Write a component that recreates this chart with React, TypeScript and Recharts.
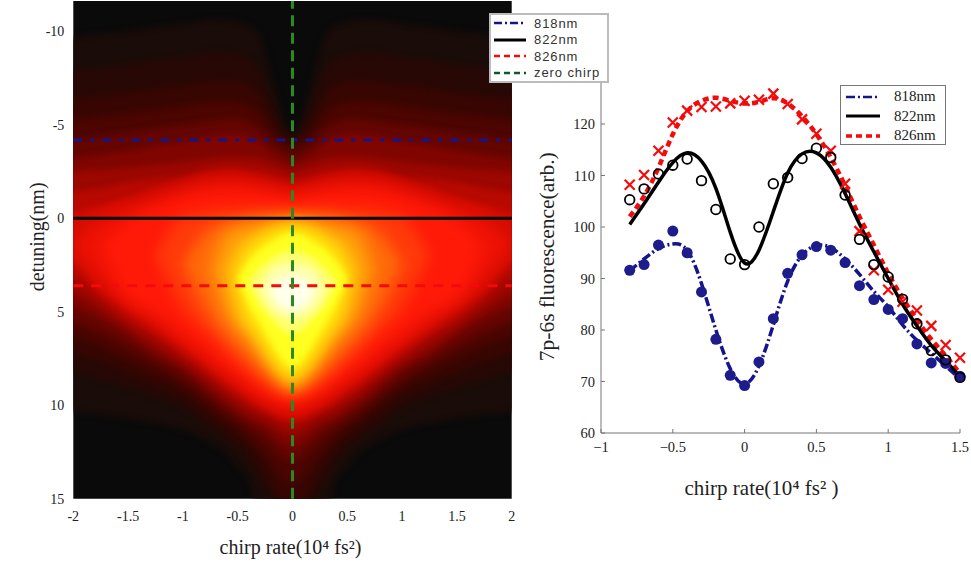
import React from 'react'
import {
  Area,
  ComposedChart,
  Legend,
  Line,
  ReferenceArea,
  ReferenceLine,
  XAxis,
  YAxis,
} from 'recharts'

const SERIF = '"Liberation Serif", serif'

// left panel: contour bands, read per |chirp| column (mirrored about zero chirp)
// the last column sits just outside the axis so the soft edges stay inside the frame
const chirpColumns = [0, 0.1, 0.2, 0.3, 0.4, 0.5, 0.6, 0.75, 1, 1.25, 1.5, 1.75, 2, 2.2]

const levelColors = [
  '#1a0c08', '#280805', '#380602', '#4c0500', '#640500', '#800500', '#9c0700',
  '#b80900', '#d40c02', '#ee1205', '#ff1a08', '#ff3a0a', '#ff6a0a', '#ff9a0a',
  '#ffc80a', '#ffe80a', '#ffff20', '#ffff70', '#ffffb0', '#ffffec',
]

const levelTops = [
  [-4.6, -5.8, -7.8, -9.8, -10.3, -10.5, -10.6, -10.6, -10.4, -10.2, -10, -9.85, -9.7, -9.6],
  [-4.4, -5, -6.5, -7.9, -8.5, -8.7, -8.8, -8.8, -8.6, -8.4, -8.2, -8, -7.9, -7.8],
  [-4.2, -4.6, -5.5, -6.6, -7.1, -7.3, -7.35, -7.3, -7.1, -6.9, -6.7, -6.5, -6.4, -6.3],
  [-3.9, -4.2, -4.8, -5.6, -6, -6.2, -6.25, -6.2, -6, -5.8, -5.6, -5.45, -5.3, -5.2],
  [-3.5, -3.8, -4.2, -4.8, -5.1, -5.3, -5.3, -5.2, -5, -4.8, -4.6, -4.4, -4.2, -4.1],
  [-3, -3.3, -3.6, -4.1, -4.35, -4.5, -4.5, -4.4, -4.1, -3.9, -3.6, -3.4, -3.2, -3.1],
  [-2.6, -2.8, -3, -3.2, -3.25, -3.3, -3.3, -3.2, -3, -2.85, -2.7, -2.6, -2.5, -2.4],
  [-2.2, -2.35, -2.5, -2.65, -2.7, -2.8, -2.8, -2.7, -2.3, -2.1, -1.9, -1.6, -1.4, -1.3],
  [-1.8, -1.95, -2.1, -2.25, -2.35, -2.45, -2.45, -2.4, -2.05, -1.6, -1.1, -0.7, -0.3, -0.1],
  [-1.4, -1.5, -1.6, -1.75, -1.85, -1.95, -1.95, -1.85, -1.5, -1, -0.5, 0, 1.4],
  [-1.1, -1.2, -1.3, -1.4, -1.45, -1.5, -1.5, -1.45, -1.1, -0.6, 0.1, 1.5],
  [-0.6, -0.6, -0.6, -0.6, -0.6, -0.5, -0.5, -0.4, -0.1, 2],
  [-0.2, -0.2, -0.15, -0.1, -0.05, 0.05, 0.15, 0.5, 2.4],
  [0.05, 0.1, 0.15, 0.2, 0.3, 0.45, 0.7, 2.7],
  [0.3, 0.35, 0.5, 0.8, 1.1, 1.5, 2.9],
  [0.5, 0.6, 0.85, 1.2, 1.8, 3.1],
  [0.8, 0.95, 1.3, 1.7, 2.3, 3.2],
  [1.7, 1.85, 2.2, 2.7, 3.4],
  [2.4, 2.5, 2.8, 3.8],
  [3.1, 3.2, 3.9],
]

const levelBottoms = [
  [16, 16, 16, 16, 14, 13.3, 12.6, 12, 11.3, 10.95, 10.7, 10.5, 10.35, 10.3],
  [16, 16, 15, 14, 13, 12.3, 11.8, 11.2, 10.1, 9.5, 9, 8.6, 8.2, 8],
  [15, 15, 14, 13, 12.2, 11.7, 11.2, 10.6, 9.5, 8.8, 8.2, 7.6, 7.2, 7],
  [14.2, 13.8, 13, 12.3, 11.7, 11.2, 10.8, 10.1, 9, 8.2, 7.5, 6.8, 6.3, 6.1],
  [13, 12.7, 12.1, 11.6, 11.2, 10.8, 10.4, 9.7, 8.6, 7.7, 6.9, 6.1, 5.5, 5.3],
  [12.2, 12, 11.5, 11.1, 10.8, 10.4, 10, 9.3, 8.1, 7.3, 6.3, 5.4, 4.7, 4.5],
  [11.5, 11.4, 11, 10.7, 10.4, 10, 9.6, 8.9, 7.8, 6.9, 5.9, 4.9, 4, 3.8],
  [11, 10.9, 10.6, 10.3, 10, 9.6, 9.2, 8.5, 7.4, 6.4, 5.5, 4.4, 3.2, 3],
  [10.7, 10.6, 10.3, 10, 9.6, 9.2, 8.8, 8.1, 7, 6, 5, 3.9, 2.4, 2],
  [10.3, 10.2, 9.9, 9.6, 9.2, 8.8, 8.4, 7.7, 6.6, 5.5, 4.6, 3.3, 1.4],
  [9.9, 9.8, 9.5, 9.2, 8.8, 8.3, 7.9, 7.2, 6.1, 5, 4.2, 1.5],
  [9.6, 9.4, 9.1, 8.7, 8.2, 7.7, 7.2, 6.3, 4.8, 2],
  [9.3, 9.1, 8.7, 8.2, 7.6, 7, 6.4, 5.3, 2.4],
  [9.1, 8.7, 8.1, 7.4, 6.7, 6, 5.2, 2.7],
  [8.8, 8.4, 7.7, 6.8, 6, 5.2, 2.9],
  [8.4, 8, 7.2, 6.2, 5.3, 3.1],
  [8, 7.5, 6.6, 5.6, 4.6, 3.2],
  [6.2, 5.9, 5.3, 4.6, 3.4],
  [5.4, 5.2, 4.8, 3.8],
  [4.9, 4.7, 3.9],
]

const detuning818 = -4.19
const detuning822 = 0
const detuning826 = 3.6

const heatXTicks = [-2, -1.5, -1, -0.5, 0, 0.5, 1, 1.5, 2]
const heatYTicks = [-10, -5, 0, 5, 10, 15]

// right panel
const chirp = [-0.8, -0.7, -0.6, -0.5, -0.4, -0.3, -0.2, -0.1, 0, 0.1, 0.2, 0.3, 0.4, 0.5, 0.6, 0.7, 0.8, 0.9, 1, 1.1, 1.2, 1.3, 1.4, 1.5]
const fit818 = [91.5, 93.8, 95.8, 96.7, 95.5, 89, 80, 72.5, 69.5, 73, 81, 89.5, 94.5, 96.4, 96, 93.8, 90.8, 87.5, 84.5, 81, 78, 75.5, 73, 70.5]
const fit822 = [100.5, 104.5, 108.7, 112.5, 114.4, 112.8, 107.5, 99, 93, 95.5, 103, 110.5, 114.2, 114.4, 111.6, 106.5, 100.6, 95.2, 90, 85, 80.8, 77, 74, 71]
const fit826 = [102, 106, 111.5, 118, 122.5, 124.5, 125.1, 124.5, 124, 124.3, 125, 124, 121.5, 118, 113.5, 108, 102, 96.5, 91, 86.2, 82, 78.2, 75, 71.5]
const meas818 = [91.6, 92.7, 96.5, 99.2, 95, 87.4, 78.2, 71.2, 69.2, 73.8, 82.2, 91, 94.6, 96.2, 95.5, 93.1, 88.6, 85.9, 84, 82.2, 77.3, 73.6, 73.5, 71]
const meas822 = [105.3, 107.4, 110.3, 112, 113.2, 109, 103.4, 93.8, 92.7, 100, 108.4, 109.6, 113.3, 115.3, 113.5, 106.2, 97.6, 92.7, 90.3, 86, 81.2, 76, 74.2, 70.8]
const meas826 = [108.2, 110.1, 114.8, 120.3, 122.6, 123.3, 123.4, 124, 124.5, 124.7, 125.9, 123.9, 120.9, 118.1, 114.8, 108.4, 99.2, 91.6, 87.8, 85.5, 83.8, 80.8, 77.1, 74.6]

const fluorXTicks = [-1, -0.5, 0, 0.5, 1, 1.5]
const fluorYTicks = [60, 70, 80, 90, 100, 110, 120]

const BLUE = '#14148c'
const RED = '#f40a0a'
const GREEN = '#2a8a20'

// mirror the |chirp| columns to a full table
const heatRows = [...chirpColumns.slice(1).reverse().map((x) => -x), ...chirpColumns].map((x) => {
  const col = chirpColumns.indexOf(Math.abs(x))
  const row: Record<string, number | number[]> = { x }
  levelColors.forEach((_, i) => {
    if (col < levelTops[i].length) row[`l${i}`] = [levelTops[i][col], levelBottoms[i][col]]
  })
  return row
})

const fluorRows = chirp.map((x, i) => ({
  x,
  fit818: fit818[i],
  fit822: fit822[i],
  fit826: fit826[i],
  meas818: meas818[i],
  meas822: meas822[i],
  meas826: meas826[i],
}))

const heatLegend = [
  { label: '818nm', color: '#14148c', dash: '8 3 2 3', width: 2.5 },
  { label: '822nm', color: '#000', dash: undefined, width: 3 },
  { label: '826nm', color: RED, dash: '6 4', width: 2.5 },
  { label: 'zero chirp', color: '#0c5a28', dash: '6 4', width: 2.5 },
]

const fluorLegend = [
  { label: '818nm', color: BLUE, dash: '9 3 2 3', width: 2.5 },
  { label: '822nm', color: '#000', dash: undefined, width: 3 },
  { label: '826nm', color: RED, dash: '6 4', width: 3.5 },
]

function HeatLegend() {
  return (
    <div style={{ width: 116, height: 66, background: '#fff', border: '2px solid #bbb', fontFamily: '"Liberation Sans", sans-serif', fontSize: 13, letterSpacing: 0.9, color: '#333' }}>
      {heatLegend.map((d) => (
        <div key={d.label} style={{ height: 16.5, display: 'flex', alignItems: 'center', marginLeft: 3 }}>
          <svg width={32} height={6} style={{ marginRight: 8 }}>
            <line x1={0} x2={32} y1={3} y2={3} stroke={d.color} strokeWidth={d.width} strokeDasharray={d.dash} />
          </svg>
          {d.label}
        </div>
      ))}
    </div>
  )
}

function FluorLegend() {
  return (
    <div style={{ width: 106, height: 60, background: '#fff', border: '1px solid #777', fontFamily: SERIF, fontSize: 15, color: '#222', paddingTop: 1, boxSizing: 'border-box' }}>
      {fluorLegend.map((d) => (
        <div key={d.label} style={{ height: 19.5, display: 'flex', alignItems: 'center', marginLeft: 5 }}>
          <svg width={34} height={6} style={{ marginRight: 14 }}>
            <line x1={0} x2={34} y1={3} y2={3} stroke={d.color} strokeWidth={d.width} strokeDasharray={d.dash} />
          </svg>
          {d.label}
        </div>
      ))}
    </div>
  )
}

const FilledDot = (p: any) => <circle cx={p.cx} cy={p.cy} r={5.5} fill="#1c1c8c" />
const OpenDot = (p: any) => <circle cx={p.cx} cy={p.cy} r={4.8} fill="none" stroke="#000" strokeWidth={1.8} />
const CrossDot = (p: any) => (
  <path
    d={`M${p.cx - 5},${p.cy - 5}L${p.cx + 5},${p.cy + 5}M${p.cx - 5},${p.cy + 5}L${p.cx + 5},${p.cy - 5}`}
    stroke={RED}
    strokeWidth={2.2}
    fill="none"
  />
)

const minusTick = (v: number) => String(v).replace('-', '\u2212')

function HeatPanel() {
  return (
    <ComposedChart width={620} height={568} data={heatRows} margin={{ top: 1, right: 108.3, left: 0, bottom: 0 }}>
      <XAxis
        dataKey="x"
        type="number"
        domain={[-2, 2]}
        allowDataOverflow
        ticks={heatXTicks}
        interval={0}
        axisLine={false}
        tickLine={false}
        height={69.3}
        tickMargin={6}
        tick={{ fontFamily: SERIF, fontSize: 14, fill: '#222' }}
        label={{ value: 'chirp rate(10\u2074 fs\u00b2)', position: 'insideBottom', offset: 14, dx: -2, style: { fontFamily: SERIF, fontSize: 20, fill: '#222' } }}
      />
      <YAxis
        type="number"
        reversed
        domain={[-11.63, 15]}
        allowDataOverflow
        ticks={heatYTicks}
        interval={0}
        axisLine={false}
        tickLine={false}
        width={73.3}
        tickMargin={3}
        tick={{ fontFamily: SERIF, fontSize: 14, fill: '#222' }}
        label={{ value: 'detuning(nm)', angle: -90, position: 'insideLeft', offset: 37, dy: -13, style: { fontFamily: SERIF, fontSize: 20, fill: '#222', textAnchor: 'middle' } }}
      />
      <ReferenceArea x1={-2} x2={2} y1={-11.63} y2={15} fill="#0a0a0a" fillOpacity={1} stroke="none" />
      {levelColors.map((color, i) => (
        <Area
          key={color}
          className={i >= 9 && i <= 15 ? 'soft-band' : undefined}
          dataKey={`l${i}`}
          type="monotone"
          connectNulls
          fill={color}
          fillOpacity={1}
          stroke="none"
          dot={false}
          activeDot={false}
          isAnimationActive={false}
        />
      ))}
      <ReferenceLine y={detuning818} stroke={BLUE} strokeWidth={3} strokeDasharray="9 8 4 8" />
      <ReferenceLine y={detuning822} stroke="#000" strokeWidth={3} />
      <ReferenceLine y={detuning826} stroke={RED} strokeWidth={3} strokeDasharray="10 8" />
      <ReferenceLine x={0} stroke={GREEN} strokeWidth={3} strokeDasharray="11 6.5" />
      <Legend
        layout="vertical"
        align="center"
        verticalAlign="middle"
        content={<HeatLegend />}
        wrapperStyle={{ left: 489, top: 13, width: 120, height: 70, bottom: 'auto', right: 'auto', margin: 0 }}
      />
    </ComposedChart>
  )
}

function FluorPanel() {
  const axisStroke = '#777'
  return (
    <ComposedChart width={471} height={568} data={fluorRows} margin={{ top: 72.5, right: 11, left: 0, bottom: 0 }}>
      <XAxis
        dataKey="x"
        type="number"
        domain={[-1, 1.5]}
        ticks={fluorXTicks}
        interval={0}
        stroke={axisStroke}
        height={135}
        tickSize={-4}
        tickMargin={13}
        tickFormatter={minusTick}
        tick={{ fontFamily: SERIF, fontSize: 14.5, fill: '#222' }}
        label={{ value: 'chirp rate(10\u2074 fs\u00b2 )', position: 'insideBottom', offset: 73, dx: -19, style: { fontFamily: SERIF, fontSize: 21, fill: '#222' } }}
      />
      <XAxis xAxisId="top" orientation="top" type="number" dataKey="x" domain={[-1, 1.5]} ticks={fluorXTicks} interval={0} stroke={axisStroke} height={0} tickSize={-4} tick={false} />
      <YAxis
        type="number"
        domain={[60, 130]}
        ticks={fluorYTicks}
        interval={0}
        stroke={axisStroke}
        width={101}
        tickSize={-4}
        tickMargin={10}
        tick={{ fontFamily: SERIF, fontSize: 14.5, fill: '#222' }}
        label={{ value: '7p-6s fluorescence(arb.)', angle: -90, position: 'insideLeft', offset: 46, dy: 4, style: { fontFamily: SERIF, fontSize: 21.5, fill: '#222', textAnchor: 'middle' } }}
      />
      <YAxis yAxisId="right" orientation="right" type="number" domain={[60, 130]} ticks={fluorYTicks} interval={0} stroke="#bbb" strokeWidth={2} width={0} tickSize={-4} tick={false} />
      <Line dataKey="fit818" type="natural" stroke={BLUE} strokeWidth={3.5} strokeDasharray="9 3 2 3" dot={false} isAnimationActive={false} />
      <Line dataKey="meas818" stroke="none" dot={<FilledDot />} isAnimationActive={false} />
      <Line dataKey="fit826" type="natural" stroke={RED} strokeWidth={4.5} strokeDasharray="6 4" dot={false} isAnimationActive={false} />
      <Line dataKey="meas826" stroke="none" dot={<CrossDot />} isAnimationActive={false} />
      <Line dataKey="fit822" type="natural" stroke="#000" strokeWidth={3.5} dot={false} isAnimationActive={false} />
      <Line dataKey="meas822" stroke="none" dot={<OpenDot />} isAnimationActive={false} />
      <Legend
        layout="vertical"
        align="center"
        verticalAlign="middle"
        content={<FluorLegend />}
        wrapperStyle={{ left: 340, top: 85, width: 108, height: 62, bottom: 'auto', right: 'auto', margin: 0 }}
      />
    </ComposedChart>
  )
}

export default function App() {
  return (
    <div style={{ position: 'absolute', left: 0, top: 0, width: 971, height: 568, background: '#fff', overflow: 'hidden' }}>
      <style>{'.recharts-area-area { filter: blur(3px); } .soft-band .recharts-area-area { filter: blur(7px); }'}</style>
      <div style={{ position: 'absolute', left: 500, top: 0 }}>
        <FluorPanel />
      </div>
      <div style={{ position: 'absolute', left: 0, top: 0 }}>
        <HeatPanel />
      </div>
    </div>
  )
}
